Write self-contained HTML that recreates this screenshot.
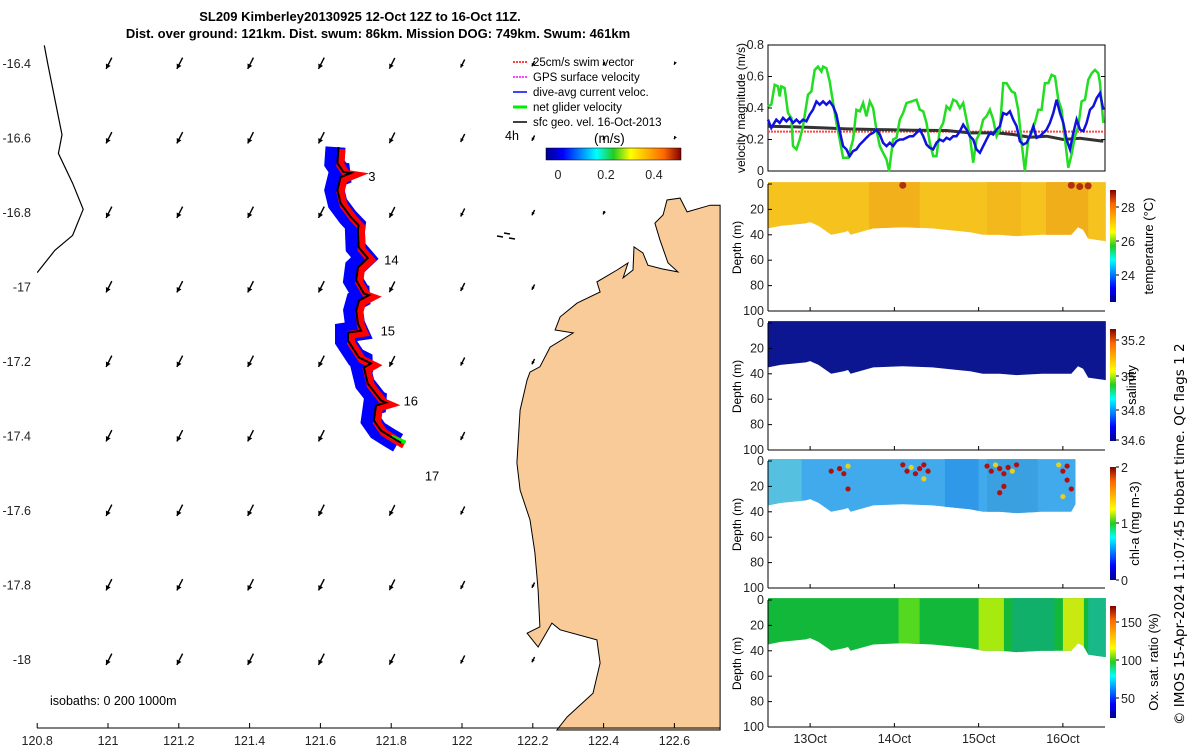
<!DOCTYPE html>
<html><head><meta charset="utf-8">
<style>
body{margin:0;background:#fff;}
svg{display:block;font-family:"Liberation Sans",sans-serif;}
</style></head>
<body>
<svg id="s" width="1200" height="750" viewBox="0 0 1200 750" xmlns="http://www.w3.org/2000/svg">
<defs>
<linearGradient id="jet" x1="0" y1="1" x2="0" y2="0">
<stop offset="0" stop-color="#00008f"/><stop offset="0.125" stop-color="#0000ff"/><stop offset="0.375" stop-color="#00ffff"/><stop offset="0.5" stop-color="#22cc22"/><stop offset="0.625" stop-color="#ffff00"/><stop offset="0.875" stop-color="#ff6600"/><stop offset="1" stop-color="#800000"/>
</linearGradient>
<linearGradient id="jeth" x1="0" y1="0" x2="1" y2="0">
<stop offset="0" stop-color="#00008f"/><stop offset="0.125" stop-color="#0000ff"/><stop offset="0.375" stop-color="#00ffff"/><stop offset="0.5" stop-color="#22cc22"/><stop offset="0.625" stop-color="#ffff00"/><stop offset="0.875" stop-color="#ff6600"/><stop offset="1" stop-color="#800000"/>
</linearGradient>
</defs>
<text x="360" y="21" text-anchor="middle" font-size="13" font-weight="bold">SL209 Kimberley20130925 12-Oct 12Z to 16-Oct 11Z.</text>
<text x="378" y="38" text-anchor="middle" font-size="13" font-weight="bold">Dist. over ground: 121km. Dist. swum: 86km. Mission DOG: 749km. Swum: 461km</text>
<g id="map"></g>
<g id="vel"></g>
<g id="sec"></g>
<text transform="translate(1184,725) rotate(-90)" font-size="13.5" style="font-family:'DejaVu Sans',sans-serif">© IMOS 15-Apr-2024 11:07:45 Hobart time. QC flags 1  2</text>
</svg>
<script>
const NS="http://www.w3.org/2000/svg";
function mk(p,t,a,txt){const e=document.createElementNS(NS,t);for(const k in a)e.setAttribute(k,a[k]);if(txt!==undefined)e.textContent=txt;p.appendChild(e);return e;}

// ---------- MAP DATA ----------
const lonTicks=[120.8,121,121.2,121.4,121.6,121.8,122,122.2,122.4,122.6];
const latTicks=[-16.4,-16.6,-16.8,-17,-17.2,-17.4,-17.6,-17.8,-18];
const gridLons=[121,121.2,121.4,121.6,121.8,122,122.2,122.4,122.6];
const gridSpeed=[0.85,0.85,0.85,0.85,0.8,0.6,0.4,0.25,0.12];
const coastLon=[122.729,122.701,122.636,122.616,122.579,122.568,122.545,122.559,122.582,122.610,122.565,122.525,122.511,122.486,122.483,122.455,122.469,122.438,122.381,122.390,122.325,122.277,122.263,122.314,122.249,122.220,122.192,122.184,122.164,122.155,122.164,122.192,122.206,122.215,122.220,122.184,122.215,122.254,122.277,122.381,122.390,122.370,122.297,122.268,122.729];
const coastLat=[-16.779,-16.779,-16.797,-16.760,-16.765,-16.805,-16.827,-16.872,-16.934,-16.958,-16.950,-16.940,-16.907,-16.891,-16.953,-16.974,-16.934,-16.953,-16.985,-17.012,-17.042,-17.079,-17.114,-17.122,-17.160,-17.213,-17.227,-17.248,-17.329,-17.471,-17.544,-17.624,-17.712,-17.812,-17.911,-17.928,-17.965,-17.901,-17.919,-17.946,-18.008,-18.089,-18.153,-18.188,-18.188];
const trackLon=[121.651,121.648,121.665,121.686,121.657,121.648,121.657,121.686,121.708,121.706,121.708,121.734,121.706,121.701,121.723,121.737,121.709,121.701,121.706,121.715,121.678,121.678,121.709,121.743,121.723,121.734,121.771,121.785,121.757,121.751,121.771,121.808,121.828];
const trackLat=[-16.623,-16.666,-16.69,-16.693,-16.704,-16.739,-16.774,-16.811,-16.833,-16.846,-16.892,-16.921,-16.946,-16.981,-17.016,-17.021,-17.035,-17.062,-17.097,-17.116,-17.121,-17.143,-17.188,-17.204,-17.215,-17.258,-17.303,-17.309,-17.317,-17.357,-17.384,-17.406,-17.417];
const dayLabels=["3","14","15","16","17"];
const dayLon=[121.735,121.78,121.77,121.835,121.895];
const dayLat=[-16.7,-16.925,-17.116,-17.303,-17.505];
const depthProfLon=[120.82,120.83,120.87,120.86,120.9,120.93,120.9,120.85,120.8];
const depthProfLat=[-16.35,-16.4,-16.59,-16.64,-16.72,-16.79,-16.86,-16.9,-16.96];

const X=lon=>108+(lon-121)*354;
const Y=lat=>64+(-16.4-lat)*372.5;
const map=document.getElementById('map');
gridLons.forEach((lo,i)=>{latTicks.forEach(la=>{
  const x=X(lo),y=Y(la),L=15*gridSpeed[i];
  const ux=-0.45,uy=0.89;
  const x1=x+L*0.3,y1=y-L*0.5,x2=x1+ux*L,y2=y1+uy*L;
  const g=mk(map,'g',{});
  
  
  mk(g,'line',{x1:x1,y1:y1,x2:x2,y2:y2,stroke:'#000','stroke-width':1.4});
  const h=Math.max(3,L*0.38),px=-uy,py=ux;
  const bx=x2-ux*h,by=y2-uy*h;
  mk(g,'path',{d:`M${x2} ${y2} L${bx+px*h*0.55} ${by+py*h*0.55} L${bx-px*h*0.55} ${by-py*h*0.55}Z`,fill:'#000'});
});});
let d='';coastLon.forEach((lo,i)=>{d+=(i?'L':'M')+X(lo).toFixed(1)+' '+Y(coastLat[i]).toFixed(1);});
const land=mk(map,'path',{d:d+'Z',fill:'#f9cb98',stroke:'#000','stroke-width':1});


mk(map,'rect',{x:0,y:0,width:37,height:750,fill:'#fff'});
[[497,236],[504,233],[509,238]].forEach(p=>mk(map,'path',{d:`M${p[0]} ${p[1]} l6 1`,stroke:'#000','stroke-width':1.5}));
let td='';trackLon.forEach((lo,i)=>{td+=(i?'L':'M')+X(lo).toFixed(1)+' '+Y(trackLat[i]).toFixed(1);});
const bl=mk(map,'path',{d:td,fill:'none',stroke:'#0000ff','stroke-width':20,'stroke-linejoin':'miter','stroke-miterlimit':2,transform:'translate(-3,0)'});


const rd=mk(map,'path',{d:td,fill:'none',stroke:'#ff0000','stroke-width':8,transform:'translate(3,2)'});


mk(map,'path',{d:`M${X(121.8)} ${Y(-17.4)} l14 6`,stroke:'#00ee00','stroke-width':4});
const tk=mk(map,'path',{d:td,fill:'none',stroke:'#000','stroke-width':2});


dayLabels.forEach((t,i)=>{const e=mk(map,'text',{x:X(dayLon[i]),y:Y(dayLat[i])+5,'font-size':13},t);

});
let pd='';depthProfLon.forEach((lo,i)=>{pd+=(i?'L':'M')+X(lo).toFixed(1)+' '+Y(depthProfLat[i]).toFixed(1);});
mk(map,'path',{d:pd,fill:'none',stroke:'#000','stroke-width':1.2});
mk(map,'rect',{x:0,y:0,width:37,height:750,fill:'#fff'});
mk(map,'line',{x1:37,y1:728,x2:720,y2:728,stroke:'#000'});
lonTicks.forEach(lo=>{const x=X(lo);mk(map,'line',{x1:x,y1:728,x2:x,y2:723,stroke:'#000'});
const e=mk(map,'text',{x:x,y:745,'text-anchor':'middle','font-size':12.5,fill:'#222'},String(lo));

});
latTicks.forEach(la=>{const e=mk(map,'text',{x:31,y:Y(la)+4,'text-anchor':'end','font-size':12.5,fill:'#222'},String(la));

});
mk(map,'text',{x:50,y:705,'font-size':12.5},'isobaths: 0   200  1000m');
const legC=['#ff0000','#ff00ff','#0000ff','#00ee00','#000'];
const legT=['25cm/s swim vector','GPS surface velocity','dive-avg current veloc.','net glider velocity','sfc geo. vel. 16-Oct-2013'];
legT.forEach((t,i)=>{const y=62+i*15;
mk(map,'line',{x1:513,y1:y,x2:527,y2:y,stroke:legC[i],'stroke-width':i==3?3:1.5,'stroke-dasharray':i<2?'2 1':''});
const e=mk(map,'text',{x:533,y:y+4,'font-size':11.5},t);

});
mk(map,'text',{x:505,y:140,'font-size':12.5},'4h');
mk(map,'text',{x:594,y:143,'font-size':13.5},'(m/s)');
const cb=mk(map,'rect',{x:546,y:148,width:135,height:12,fill:'url(#jeth)',stroke:'#000','stroke-width':0.5});


[[0,558],[0.2,606],[0.4,654]].forEach(p=>{mk(map,'text',{x:p[1],y:179,'text-anchor':'middle','font-size':12.5,fill:'#222'},String(p[0]));});

// ---------- VELOCITY DATA ----------
const gT=[115,125,135,145,150,155,165,175,185,190,200,210,220,235,245,255,265,275,280,290,300,310,320,330,340,355,370,380,390,400,410,420,430,440,450,460,470,478,490,500,510,520,530,545,560,570,580,590,600,610,620,630,640,650,660,670,680,690,700,710,720,730,740,750,760,770,780,790,800,810,820,830,845,855,865,875,885,895,905,915,925,935,945,955,965,975,985,995,1005,1015,1025,1035,1045,1055,1065,1075,1085,1095,1105,1110,1120];
const gV=[200,195,135,140,170,140,145,220,235,320,330,300,260,165,155,90,80,95,80,85,125,190,250,300,355,355,300,210,215,190,230,185,205,270,320,340,360,395,300,295,240,220,190,185,180,210,215,250,310,350,350,270,250,200,210,180,185,205,190,240,290,370,300,280,240,230,210,240,290,270,130,130,155,160,210,310,395,300,280,250,210,210,130,130,105,110,180,210,300,385,345,290,260,185,180,120,100,90,100,130,250];
const bT=[115,125,140,150,160,170,180,190,200,210,220,230,240,250,260,270,280,290,300,310,320,330,340,350,360,370,380,390,400,410,420,430,440,450,460,470,480,490,500,510,520,530,540,550,560,570,580,590,600,610,620,630,640,650,660,670,680,690,700,710,720,730,740,750,760,770,780,790,800,810,820,830,840,850,860,870,880,890,900,910,920,930,940,950,960,970,980,990,1000,1010,1020,1030,1040,1050,1060,1070,1080,1090,1100,1110,1120];
const bV=[240,265,240,250,235,245,235,250,240,250,240,245,225,210,185,195,185,195,185,200,225,275,320,330,350,335,330,315,305,295,285,280,270,285,310,320,310,320,305,300,300,295,290,290,280,270,290,315,325,330,310,300,305,295,300,290,290,275,255,270,290,300,330,340,320,300,280,285,270,260,220,225,215,240,260,305,315,310,290,260,295,290,280,270,250,220,180,220,250,300,330,280,240,270,275,250,210,200,175,160,210];
const kT=[115,200,280,350,450,550,650,720,800,850,900,950,1000,1050,1120];
const kV=[260,262,265,268,270,272,273,280,280,285,293,290,300,296,305];
const velTicks=[0,0.2,0.4,0.6,0.8];
const swimRef=0.25;
const zt=xz=>12.5+(xz-115)/1010*4;
const zv=yz=>(395-yz)/380*0.8;
const TX=t=>768+(t-12.5)*84.25;
const VY=v=>171-v/0.8*126;
const vel=document.getElementById('vel');
mk(vel,'rect',{x:768,y:45,width:337,height:126,fill:'#fff',stroke:'#000'});
velTicks.forEach(v=>{const y=VY(v);mk(vel,'line',{x1:768,y1:y,x2:772,y2:y,stroke:'#000'});mk(vel,'line',{x1:1105,y1:y,x2:1101,y2:y,stroke:'#000'});
const e=mk(vel,'text',{x:764,y:y+4,'text-anchor':'end','font-size':12.5,fill:'#222'},String(v));

});
mk(vel,'text',{transform:'translate(745,108) rotate(-90)','text-anchor':'middle','font-size':12},'velocity magnitude (m/s)');
const cv=mk(vel,'g',{});
function line(T,V,col,w,nm,dash){let s='';T.forEach((t,i)=>{s+=(i?'L':'M')+TX(zt(t)).toFixed(1)+' '+VY(zv(V[i])).toFixed(1);});
const e=mk(cv,'path',{d:s,fill:'none',stroke:col,'stroke-width':w,'stroke-dasharray':dash||''});

}
const rl=mk(cv,'line',{x1:768,x2:1105,y1:VY(swimRef),y2:VY(swimRef),stroke:'#ff4444','stroke-width':2,'stroke-dasharray':'2 1'});


line(kT,kV,'#333',3,'geostrophic-velocity-line');
line(gT,gV,'#22dd22',2.5,'net-glider-velocity-line');
line(bT,bV,'#1111dd',2.5,'dive-avg-current-line');

// ---------- SECTIONS ----------
const bndT=[12.5,12.65,12.8,12.95,13.0,13.1,13.25,13.4,13.45,13.48,13.75,14.1,14.45,14.75,14.9,15.05,15.25,15.45,15.75,16.1,16.18,16.24,16.3,16.51];
const bndD=[35,33,32,31,30,33,40,38,37,40,35,34,35,37,38,40,40,41,40,40,34,36,43,45];
const depthTicks=[0,20,40,60,80,100];
const dayTicks=[13,14,15,16];
const panels=[
 {name:'temperature',top:184,lab:'temperature (°C)',lx:1153,base:'#f5c21e',cb:[[28,207],[26,241],[24,275]],cbTop:190,cbBot:302,bands:[[13.7,14.3,'#f2b01a'],[15.1,15.5,'#f3b81b'],[15.8,16.3,'#efae1a']]},
 {name:'salinity',top:323,lab:'salinity',lx:1136,base:'#0c1690',cb:[[35.2,340],[35,376],[34.8,410],[34.6,440]],cbTop:329,cbBot:441,bands:[]},
 {name:'chlorophyll',top:461,lab:'chl-a (mg m-3)',lx:1139,base:'#40aaec',cb:[[2,467],[1,523],[0,580]],cbTop:467,cbBot:580,bands:[[12.5,12.9,'#55c0e0'],[14.6,15.0,'#3098e8'],[15.1,15.7,'#3aa0e0']],end:16.15},
 {name:'oxygen',top:600,lab:'Ox. sat. ratio (%)',lx:1158,base:'#12b83a',cb:[[150,622],[100,660],[50,698]],cbTop:606,cbBot:718,bands:[[14.05,14.3,'#55d820'],[15.0,15.3,'#a6ea10'],[15.4,15.9,'#10b06a'],[16.0,16.25,'#c8ea10'],[16.3,16.51,'#18b888']]}
];
const chlDotT=[13.25,13.35,13.4,13.45,13.45,14.1,14.15,14.2,14.25,14.3,14.35,14.35,14.4,15.1,15.15,15.2,15.25,15.3,15.35,15.4,15.45,15.25,15.3,15.95,16.0,16.05,16.1,16.0,16.05];
const chlDotD=[8,6,10,4,22,3,8,5,10,6,3,14,8,4,8,3,6,10,5,8,3,25,20,3,8,15,22,28,4];
const sec=document.getElementById('sec');
const DY=(p,dp)=>p.top+dp*1.27;
panels.forEach(p=>{
 const g=mk(sec,'g',{});
 
 
 const endT=p.end||16.51;
 let s=`M${TX(12.5)} ${DY(p,-1.5)} L${TX(endT)} ${DY(p,-1.5)}`;
 for(let i=bndT.length-1;i>=0;i--){const t=Math.min(bndT[i],endT);s+=`L${TX(t).toFixed(1)} ${DY(p,bndD[i]).toFixed(1)}`;}
 s+='Z';
 const cid='c'+p.name;
 const cp=mk(g,'clipPath',{id:cid});mk(cp,'path',{d:s});
 const fill=mk(g,'path',{d:s,fill:p.base});
 
 
 const bg=mk(g,'g',{'clip-path':`url(#${cid})`});
 p.bands.forEach(b=>mk(bg,'rect',{x:TX(b[0]),y:p.top-3,width:TX(b[1])-TX(b[0]),height:60,fill:b[2]}));
 if(p.name==='temperature'){[[16.1,1],[16.2,2],[16.3,1.5],[14.1,1]].forEach(q=>mk(bg,'circle',{cx:TX(q[0]),cy:DY(p,q[1]),r:3.5,fill:'#b03010'}));}
 if(p.name==='chlorophyll'){chlDotT.forEach((t,i)=>{const c=mk(bg,'circle',{cx:TX(t),cy:DY(p,chlDotD[i]),r:2.6,fill:i%4==3?'#e8d020':'#b01010'});
 
 });}
 mk(g,'line',{x1:768,y1:p.top,x2:768,y2:DY(p,100),stroke:'#000'});
 mk(g,'line',{x1:768,y1:DY(p,100),x2:1105,y2:DY(p,100),stroke:'#000'});
 depthTicks.forEach(dp=>{const y=DY(p,dp);mk(g,'line',{x1:768,y1:y,x2:772,y2:y,stroke:'#000'});
 const e=mk(g,'text',{x:764,y:y+4,'text-anchor':'end','font-size':12.5,fill:'#222'},String(dp));
 
 });
 dayTicks.forEach(t=>mk(g,'line',{x1:TX(t),y1:DY(p,100),x2:TX(t),y2:DY(p,100)-4,stroke:'#000'}));
 mk(g,'text',{transform:`translate(741,${DY(p,50)}) rotate(-90)`,'text-anchor':'middle','font-size':12},'Depth (m)');
 const cbr=mk(g,'rect',{x:1110,y:p.cbTop,width:6,height:p.cbBot-p.cbTop,fill:'url(#jet)'});
 
 
 p.cb.forEach(c=>{mk(g,'line',{x1:1116,y1:c[1],x2:1119,y2:c[1],stroke:'#000'});
 mk(g,'text',{x:1121,y:c[1]+5,'font-size':12.5,fill:'#222'},String(c[0]));});
 mk(g,'text',{transform:`translate(${p.lx},${(p.cbTop+p.cbBot)/2}) rotate(-90)`,'text-anchor':'middle','font-size':13},p.lab);
});
dayTicks.forEach(t=>{const e=mk(sec,'text',{x:TX(t),y:743,'text-anchor':'middle','font-size':12.5,fill:'#222'},t+'Oct');

});
</script>
</body></html>
